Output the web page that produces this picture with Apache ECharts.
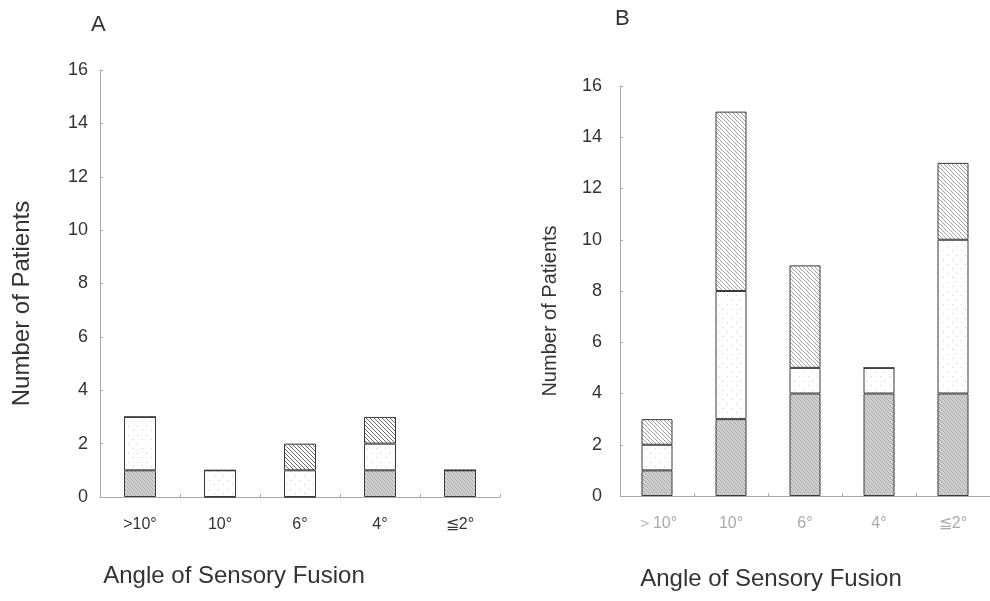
<!DOCTYPE html>
<html>
<head>
<meta charset="utf-8">
<script src="https://cdn.jsdelivr.net/npm/echarts@6/dist/echarts.min.js"></script>
<style>
  html, body { margin: 0; padding: 0; background: #fff; }
  #chart { width: 990px; height: 601px; }
</style>
</head>
<body>
<div id="chart"></div>
<script>
// categories (A uses a narrow ">", B the wide one as printed)
var catsA = ['>10°', '10°', '6°', '4°', '≦2°'];
var catsB = ['＞10°', '10°', '6°', '4°', '≦2°'];

// panel A, stacked bottom -> top
var aBottom = [1, 0, 0, 1, 1];
var aMiddle = [2, 1, 1, 1, 0];
var aTop    = [0, 0, 1, 1, 0];

// panel B, stacked bottom -> top
var bBottom = [1, 3, 4, 4, 4];
var bMiddle = [1, 5, 1, 1, 6];
var bTop    = [1, 7, 4, 0, 3];

var yMax = 16;
var yStep = 2;

/* fill patterns for the three segments */
function stipple() {
  var c = document.createElement('canvas');
  c.width = 4; c.height = 4;
  var g = c.getContext('2d');
  g.fillStyle = '#d2d2d2';
  g.fillRect(0, 0, 4, 4);
  g.fillStyle = '#a2a2a2';
  g.fillRect(0, 0, 1, 1);
  g.fillRect(2, 1, 1, 1);
  g.fillRect(1, 2, 1, 1);
  g.fillRect(3, 3, 1, 1);
  return c;
}
function dots() {
  var c = document.createElement('canvas');
  c.width = 9; c.height = 9;
  var g = c.getContext('2d');
  g.fillStyle = '#ffffff';
  g.fillRect(0, 0, 9, 9);
  g.fillStyle = '#cccccc';
  g.fillRect(2, 3, 1, 1);
  g.fillRect(7, 7, 1, 1);
  return c;
}
function hatch(ink) {
  var c = document.createElement('canvas');
  c.width = 4; c.height = 4;
  var g = c.getContext('2d');
  g.fillStyle = '#ffffff';
  g.fillRect(0, 0, 4, 4);
  g.fillStyle = ink;
  for (var i = 0; i < 4; i++) g.fillRect(i, i, 1, 1);
  return c;
}

function seg(name, data, xi, stack, pat, width) {
  return {
    name: name,
    type: 'bar',
    xAxisIndex: xi,
    yAxisIndex: xi,
    stack: stack,
    barWidth: width,
    itemStyle: {
      color: { image: pat, repeat: 'repeat' },
      borderColor: '#3a3a3a',
      borderWidth: 1
    },
    data: data
  };
}

var yAxisBase = function (gi, gap, size, margin) {
  return {
    type: 'value',
    gridIndex: gi,
    min: 0,
    max: yMax,
    interval: yStep,
    name: 'Number of Patients',
    nameLocation: 'middle',
    nameGap: gap,
    nameTextStyle: {
      fontFamily: 'Liberation Sans',
      fontSize: size,
      color: '#333',
      padding: [0, 40, 0, 0]
    },
    axisLine: { show: true, lineStyle: { color: '#aaa', width: 1 } },
    axisTick: { show: true, inside: true, length: 3, lineStyle: { color: '#aaa' } },
    axisLabel: {
      margin: margin,
      fontFamily: 'Liberation Sans',
      fontSize: 18,
      color: '#333'
    },
    splitLine: { show: false }
  };
};

var xAxisBase = function (gi, cats, labelColor, shift, gap) {
  return {
    type: 'category',
    gridIndex: gi,
    data: cats,
    name: 'Angle of Sensory Fusion',
    nameLocation: 'middle',
    nameGap: gap,
    nameTextStyle: {
      fontFamily: 'Liberation Sans',
      fontSize: 24,
      color: '#333',
      padding: [0, shift, 0, 0]
    },
    axisLine: { show: true, lineStyle: { color: '#aaa', width: 1 } },
    axisTick: { show: true, inside: true, length: 3, lineStyle: { color: '#aaa' } },
    axisLabel: {
      margin: 20,
      fontFamily: 'Liberation Sans',
      fontSize: 16,
      color: labelColor
    }
  };
};

var chart = echarts.init(document.getElementById('chart'), null, { renderer: 'canvas' });

var option = {
  backgroundColor: '#ffffff',
  animation: false,
  title: [
    { text: 'A', left: 86, top: 9, textStyle: { fontFamily: 'Liberation Sans', fontSize: 22, fontWeight: 'normal', color: '#333' } },
    { text: 'B', left: 610, top: 3, textStyle: { fontFamily: 'Liberation Sans', fontSize: 22, fontWeight: 'normal', color: '#333' } }
  ],
  grid: [
    { left: 100, right: 490, top: 70, bottom: 104 },
    { left: 620, right: 0, top: 86, bottom: 105 }
  ],
  xAxis: [
    xAxisBase(0, catsA, '#333', 132, 67),
    xAxisBase(1, catsB, '#aaa', 68, 71)
  ],
  yAxis: [
    yAxisBase(0, 66, 24, 12),
    yAxisBase(1, 60, 20, 18)
  ],
  series: [
    seg('bottom', aBottom, 0, 'a', stipple(), 32),
    seg('middle', aMiddle, 0, 'a', dots(), 32),
    seg('top', aTop, 0, 'a', hatch('#6a6a6a'), 32),
    seg('bottom', bBottom, 1, 'b', stipple(), 31),
    seg('middle', bMiddle, 1, 'b', dots(), 31),
    seg('top', bTop, 1, 'b', hatch('#a0a0a0'), 31)
  ]
};

chart.setOption(option);
</script>
</body>
</html>
